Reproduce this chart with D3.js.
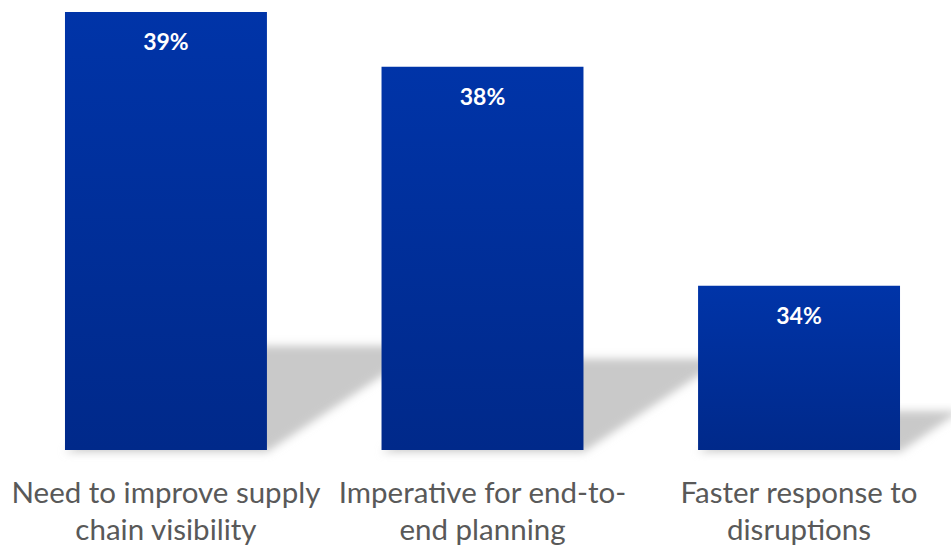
<!DOCTYPE html>
<html>
<head>
<meta charset="utf-8">
<script src="https://cdn.jsdelivr.net/npm/d3@7"></script>
<style>
  html, body { margin: 0; padding: 0; background: #fff; }
  svg { display: block; }
</style>
</head>
<body>
<svg id="chart" width="951" height="545"></svg>
<script>
const categories = ["Need to improve supply chain visibility", "Imperative for end-to-end planning", "Faster response to disruptions"];
const categoryLines = [["Need to improve supply", "chain visibility"], ["Imperative for end-to-", "end planning"], ["Faster response to", "disruptions"]];
const values = [39, 38, 34];
const valueLabels = ["39%", "38%", "34%"];

const W = 951, H = 545;
const svg = d3.select("#chart");

const x = d3.scaleBand().domain(categories).range([8, 957]).paddingInner(0.362).paddingOuter(0.18);
const y = d3.scaleLinear().domain([31, 39]).range([450, 12]);

const defs = svg.append("defs");
const grad = defs.append("linearGradient").attr("id", "barGrad").attr("x1", 0).attr("y1", 0).attr("x2", 0).attr("y2", 1);
grad.append("stop").attr("offset", "0%").attr("stop-color", "#0034a8");
grad.append("stop").attr("offset", "100%").attr("stop-color", "#00298a");

const blur = defs.append("filter").attr("id", "shadowBlur").attr("x", "-20%").attr("y", "-20%").attr("width", "140%").attr("height", "140%");
blur.append("feGaussianBlur").attr("stdDeviation", 4);

const base = y(31);
const k = 0.238, slope = 0.65;

// shadows
svg.append("g").selectAll("path").data(values).join("path")
  .attr("d", (d, i) => {
    const x0 = x(categories[i]), x1 = x0 + x.bandwidth();
    const h = base - y(d);
    const sh = k * h, dx = sh / slope;
    return `M${x0},${base + 2}L${x1},${base + 2}L${x1 + dx},${base - sh}L${x0 + dx},${base - sh}Z`;
  })
  .attr("fill", "#c9c9c9")
  .attr("filter", "url(#shadowBlur)");

// bars
svg.append("g").selectAll("rect").data(values).join("rect")
  .attr("x", (d, i) => x(categories[i]))
  .attr("y", d => y(d))
  .attr("width", x.bandwidth())
  .attr("height", d => base - y(d))
  .attr("fill", "url(#barGrad)");

// value labels
svg.append("g").selectAll("text").data(values).join("text")
  .attr("x", (d, i) => x(categories[i]) + x.bandwidth() / 2)
  .attr("y", d => y(d) + 38)
  .attr("text-anchor", "middle")
  .attr("font-family", "Lato, 'Open Sans', sans-serif")
  .attr("font-weight", "bold")
  .attr("font-size", 23)
  .attr("fill", "#ffffff")
  .text((d, i) => valueLabels[i]);

// category labels
const catG = svg.append("g");
const labels = catG.selectAll("text").data(categoryLines).join("text")
  .attr("x", (d, i) => x(categories[i]) + x.bandwidth() / 2)
  .attr("y", 503)
  .attr("text-anchor", "middle")
  .attr("font-family", "Lato, 'Open Sans', sans-serif")
  .attr("font-size", 29.5)
  .attr("fill", "#595959");
labels.each(function(lines) {
  const t = d3.select(this);
  lines.forEach((ln, j) => {
    t.append("tspan").attr("x", t.attr("x")).attr("dy", j === 0 ? 0 : 37).text(ln);
  });
});
</script>
</body>
</html>
